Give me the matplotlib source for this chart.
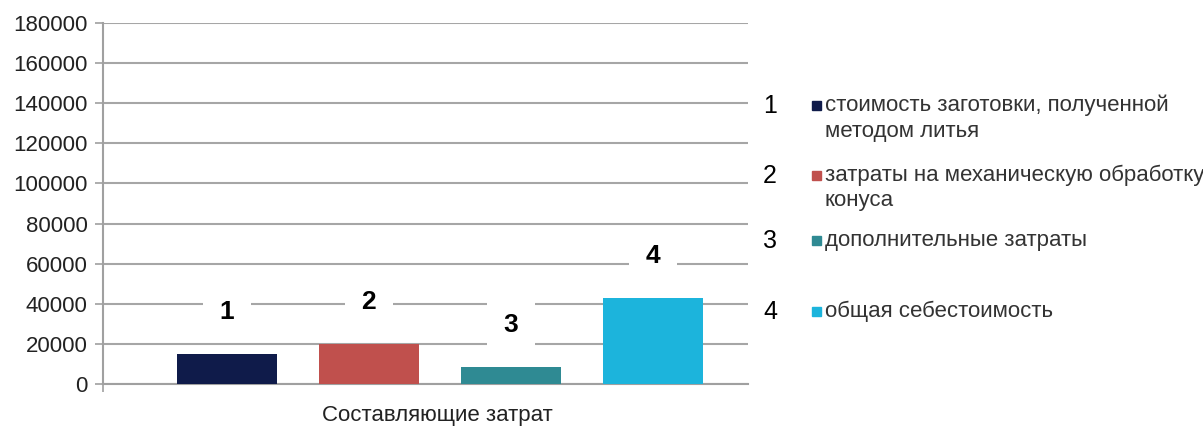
import matplotlib
matplotlib.use("Agg")
import matplotlib.pyplot as plt
from matplotlib.patches import Rectangle

plt.rcParams['font.family'] = ['Liberation Sans', 'DejaVu Sans']

# data
labels = ['1', '2', '3', '4']
values = [15000, 20000, 8500, 43000]
colors = ['#0f1b4a', '#c0504d', '#2f8a93', '#1cb4dc']
legend_texts = ['стоимость заготовки, полученной\nметодом литья',
                'затраты на механическую обработку\nконуса',
                'дополнительные затраты',
                'общая себестоимость']
yticks = [0, 20000, 40000, 60000, 80000, 100000, 120000, 140000, 160000, 180000]

W, H = 1203, 430
fig = plt.figure(figsize=(W / 100, H / 100), dpi=100)
ax = fig.add_axes([103 / W, 1 - 384 / H, (748 - 103) / W, (384 - 23) / H])

x = list(range(len(values)))
bars = ax.bar(x, values, width=0.70, color=colors, zorder=3)

for xi, v, lab in zip(x, values, labels):
    ax.annotate(lab, xy=(xi, v), xytext=(0, 30), textcoords='offset points',
                ha='center', va='center', fontsize=19, fontweight='bold',
                bbox=dict(fc='white', ec='none', boxstyle='square,pad=0.62'),
                zorder=4)

ax.set_xlim(-0.873, 3.67)
ax.set_ylim(0, 180000)
ax.set_yticks(yticks)
ax.set_yticklabels([str(t) for t in yticks], fontsize=16, color='#222222')
ax.set_xticks([-0.873])
ax.set_xticklabels([''])
ax.tick_params(axis='both', length=6, width=1.2, color='#a0a0a0', pad=5)
ax.grid(axis='y', color='#a6a6a6', lw=1.5, zorder=0)
ax.set_axisbelow(True)
for s in ['top', 'right']:
    ax.spines[s].set_visible(False)
for s in ['left', 'bottom']:
    ax.spines[s].set_color('#a0a0a0')
    ax.spines[s].set_linewidth(1.5)

ax.set_xlabel('Составляющие затрат', fontsize=16, color='#222222')
ax.xaxis.set_label_coords((437 - 103) / 645, -0.058)

# legend, built by hand
entry_y = [106, 176, 241, 312]
for lab, txt, col, yy in zip(labels, legend_texts, colors, entry_y):
    fig.text(770 / W, 1 - yy / H, lab, fontsize=18, ha='center', va='center')
    fig.patches.append(Rectangle((812 / W, 1 - (yy + 4) / H), 9 / W, 9 / H,
                                 transform=fig.transFigure, color=col))
    fig.text(825 / W, 1 - (yy - 11) / H, txt, fontsize=16, ha='left', va='top',
             color='#333333', linespacing=1.25)

plt.savefig('out.png', dpi=100)
